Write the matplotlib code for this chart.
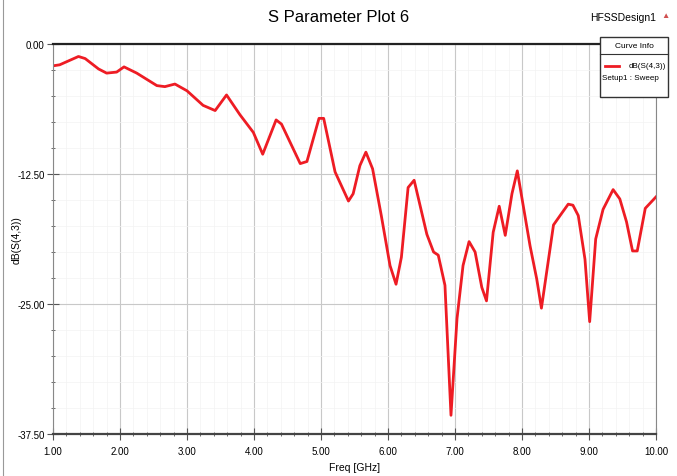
import numpy as np
import matplotlib.pyplot as plt
from matplotlib.ticker import MultipleLocator, FormatStrFormatter

plt.rcParams['font.family'] = ['Liberation Sans', 'DejaVu Sans']

# frequency (GHz) and dB(S(4,3))
freq = [1.00, 1.10, 1.38, 1.48, 1.68, 1.80, 1.95, 2.06, 2.25, 2.55, 2.67, 2.82,
        3.00, 3.24, 3.42, 3.59, 3.79, 3.99, 4.13, 4.33, 4.41, 4.69, 4.79, 4.97,
        5.04, 5.21, 5.41, 5.48, 5.58, 5.67, 5.77, 5.90, 6.03, 6.12, 6.20, 6.30,
        6.39, 6.58, 6.68, 6.75, 6.85, 6.94, 7.03, 7.12, 7.21, 7.30, 7.40, 7.47,
        7.57, 7.66, 7.75, 7.85, 7.93, 8.12, 8.22, 8.29, 8.47, 8.59, 8.69, 8.76,
        8.84, 8.94, 9.01, 9.10, 9.21, 9.36, 9.46, 9.56, 9.65, 9.72, 9.84, 10.00]
s43 = [-2.1, -2.0, -1.2, -1.4, -2.4, -2.8, -2.7, -2.2, -2.8, -4.0, -4.1, -3.85,
       -4.5, -5.9, -6.4, -4.9, -6.8, -8.5, -10.6, -7.3, -7.7, -11.5, -11.3, -7.15,
       -7.15, -12.3, -15.1, -14.4, -11.7, -10.4, -12.0, -16.5, -21.3, -23.1, -20.5, -13.8,
       -13.1, -18.3, -20.0, -20.3, -23.2, -35.7, -26.4, -21.3, -19.0, -20.0, -23.4, -24.7,
       -18.1, -15.6, -18.4, -14.4, -12.2, -19.4, -22.6, -25.4, -17.4, -16.3, -15.4, -15.5,
       -16.5, -20.7, -26.7, -18.75, -15.9, -14.0, -14.9, -17.1, -19.9, -19.9, -15.8, -14.7]

fig = plt.figure(figsize=(6.77, 4.77), dpi=100)
ax = fig.add_axes([53/677, 1 - 435/477, (656-53)/677, (435-45)/477])

ax.plot(freq, s43, color='#ee1c24', lw=2.0)

ax.set_xlim(1, 10)
ax.set_ylim(-37.5, 0)
ax.xaxis.set_major_locator(MultipleLocator(1))
ax.xaxis.set_minor_locator(MultipleLocator(0.2))
ax.yaxis.set_major_locator(MultipleLocator(12.5))
ax.yaxis.set_minor_locator(MultipleLocator(2.5))
ax.xaxis.set_major_formatter(FormatStrFormatter('%.2f'))
ax.yaxis.set_major_formatter(FormatStrFormatter('%.2f'))
ax.grid(which='major', color='#c8c8c8', lw=0.8)
ax.grid(which='minor', color='#f3f3f3', lw=0.5)
ax.set_axisbelow(True)
ax.tick_params(which='both', labelsize=7, direction='inout', color='#555555', pad=2)
ax.tick_params(axis='x', which='major', pad=5)
ax.tick_params(which='major', length=8)
ax.tick_params(which='minor', length=3)

ax.spines['top'].set_linewidth(1.6)
ax.spines['top'].set_color('#222222')
ax.spines['bottom'].set_linewidth(1.6)
ax.spines['bottom'].set_color('#444444')
ax.spines['left'].set_color('#888888')
ax.spines['right'].set_color('#888888')

ax.set_xlabel('Freq [GHz]', fontsize=7.5, labelpad=4)
fig.text(17/677, 1 - 240/477, 'dB(S(4,3))', rotation=90, ha='center', va='center', fontsize=7.5)

# frame edge on the far left
fig.add_artist(plt.Line2D([3/677, 3/677], [0, 1], transform=fig.transFigure, color='#999999', lw=0.8))

fig.text(0.5, 1 - 18/477, 'S Parameter Plot 6', ha='center', va='center', fontsize=12)
fig.text(623/677, 1 - 18/477, 'HFSSDesign1', ha='center', va='center', fontsize=7.5)
fig.text(665/677, 1 - 16/477, '\u25b2', ha='center', va='center', fontsize=6, color='#d05050')

# curve info box
box = plt.Rectangle((600/677, 1 - 98/477), 68/677, 60/477, transform=fig.transFigure,
                    facecolor='white', edgecolor='#333333', lw=1.0, zorder=5)
fig.add_artist(box)
fig.add_artist(plt.Line2D([600/677, 668/677], [1 - 55/477, 1 - 55/477], transform=fig.transFigure,
                          color='#333333', lw=0.8, zorder=6))
fig.text(634/677, 1 - 46/477, 'Curve Info', ha='center', va='center', fontsize=6, zorder=7)
fig.add_artist(plt.Line2D([605/677, 619/677], [1 - 67/477, 1 - 67/477], transform=fig.transFigure,
                          color='#ee1c24', lw=2, zorder=6))
fig.text(666/677, 1 - 67/477, 'dB(S(4,3))', ha='right', va='center', fontsize=5.8, zorder=7)
fig.text(602/677, 1 - 78/477, 'Setup1 : Sweep', ha='left', va='center', fontsize=5.8, zorder=7)

fig.savefig('out.png', dpi=100)
